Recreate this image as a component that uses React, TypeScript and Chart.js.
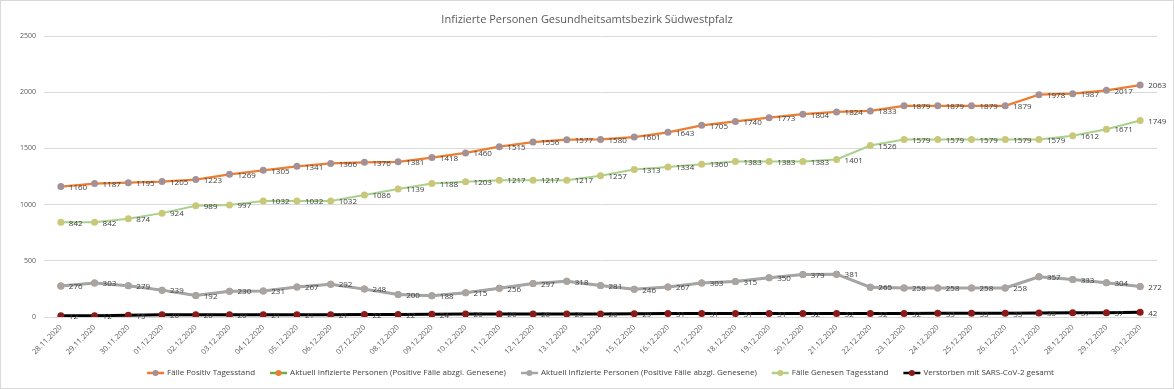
import React, { useEffect, useRef } from "react";
import { Chart, registerables } from "chart.js";
Chart.register(...registerables);

const dates = [
  "28.11.2020", "29.11.2020", "30.11.2020", "01.12.2020", "02.12.2020", "03.12.2020",
  "04.12.2020", "05.12.2020", "06.12.2020", "07.12.2020", "08.12.2020", "09.12.2020",
  "10.12.2020", "11.12.2020", "12.12.2020", "13.12.2020", "14.12.2020", "15.12.2020",
  "16.12.2020", "17.12.2020", "18.12.2020", "19.12.2020", "20.12.2020", "21.12.2020",
  "22.12.2020", "23.12.2020", "24.12.2020", "25.12.2020", "26.12.2020", "27.12.2020",
  "28.12.2020", "29.12.2020", "30.12.2020",
];

const positiv = [
  1160, 1187, 1195, 1205, 1223, 1269, 1305, 1341, 1366, 1376, 1381, 1418, 1460, 1515,
  1556, 1577, 1580, 1601, 1643, 1705, 1740, 1773, 1804, 1824, 1833, 1879, 1879, 1879,
  1879, 1978, 1987, 2017, 2063,
];

const aktuell = [
  276, 303, 279, 239, 192, 230, 231, 267, 292, 248, 200, 188, 215, 256, 297, 318, 281,
  246, 267, 303, 315, 350, 379, 381, 265, 258, 258, 258, 258, 357, 333, 304, 272,
];

const genesen = [
  842, 842, 874, 924, 989, 997, 1032, 1032, 1032, 1086, 1139, 1188, 1203, 1217, 1217,
  1217, 1257, 1313, 1334, 1360, 1383, 1383, 1383, 1401, 1526, 1579, 1579, 1579, 1579,
  1579, 1612, 1671, 1749,
];

const verstorben = [
  12, 12, 15, 20, 20, 20, 21, 21, 21, 22, 22, 24, 26, 26, 26, 26, 26, 29, 31, 31, 31,
  31, 32, 32, 32, 32, 33, 33, 33, 35, 37, 37, 42,
];

const yTicks = [0, 500, 1000, 1500, 2000, 2500];

const TITLE = "Infizierte Personen Gesundheitsamtsbezirk Südwestpfalz";
const FONT = '"Open Sans", "DejaVu Sans Condensed", sans-serif';

const titlePlugin = {
  id: "customTitle",
  afterDraw(chart: any) {
    const ctx = chart.ctx;
    ctx.save();
    ctx.font = `11px ${FONT}`;
    ctx.fillStyle = "#595959";
    ctx.textAlign = "center";
    ctx.textBaseline = "middle";
    ctx.fillText(TITLE, chart.width / 2, 19);
    ctx.restore();
  },
};

const labelPlugin = {
  id: "dataLabels",
  afterDatasetsDraw(chart: any) {
    const ctx = chart.ctx;
    ctx.save();
    ctx.font = `8px ${FONT}`;
    ctx.fillStyle = "#404040";
    ctx.textAlign = "left";
    ctx.textBaseline = "middle";
    chart.data.datasets.forEach((ds: any, i: number) => {
      if (ds.noLabels) return;
      const meta = chart.getDatasetMeta(i);
      meta.data.forEach((pt: any, j: number) => {
        ctx.fillText(String(ds.data[j]), pt.x + 8, pt.y + 1);
      });
    });
    ctx.restore();
  },
};

const legendPlugin = {
  id: "customLegend",
  afterDraw(chart: any) {
    const ctx = chart.ctx;
    ctx.save();
    ctx.font = `8px ${FONT}`;
    ctx.textBaseline = "middle";
    const lineLen = 17;
    const gapText = 3;
    const gapItem = 15;
    const items = chart.data.datasets.map((ds: any) => ({
      label: ds.label,
      line: ds.borderColor,
      marker: ds.pointBackgroundColor,
      w: ctx.measureText(ds.label).width,
    }));
    const total =
      items.reduce((s: number, it: any) => s + lineLen + gapText + it.w, 0) +
      gapItem * (items.length - 1);
    let x = (chart.chartArea.left + chart.chartArea.right) / 2 - total / 2;
    const y = 372;
    items.forEach((it: any) => {
      ctx.strokeStyle = it.line;
      ctx.lineWidth = 2.5;
      ctx.beginPath();
      ctx.moveTo(x, y);
      ctx.lineTo(x + lineLen, y);
      ctx.stroke();
      ctx.fillStyle = it.marker;
      ctx.beginPath();
      ctx.arc(x + lineLen / 2, y, 3, 0, Math.PI * 2);
      ctx.fill();
      ctx.fillStyle = "#404040";
      ctx.textAlign = "left";
      ctx.fillText(it.label, x + lineLen + gapText, y);
      x += lineLen + gapText + it.w + gapItem;
    });
    ctx.restore();
  },
};

export default function App() {
  const ref = useRef<HTMLCanvasElement>(null);
  useEffect(() => {
    document.body.style.margin = "0";
    const mk = (
      label: string,
      data: number[],
      line: string,
      marker: string,
      width: number,
      order: number,
      noLabels = false
    ) => ({
      label,
      data,
      borderColor: line,
      backgroundColor: marker,
      pointBackgroundColor: marker,
      pointBorderColor: marker,
      pointRadius: 3.5,
      pointBorderWidth: 0,
      borderWidth: width,
      tension: 0,
      order,
      noLabels,
    });
    const chart = new Chart(ref.current!, {
      type: "line",
      data: {
        labels: dates,
        datasets: [
          mk("Fälle Positiv Tagesstand", positiv, "#ed7d31", "#a39196", 2.25, 4),
          mk(
            "Aktuell Infizierte Personen (Positive Fälle abzgl. Genesene)",
            aktuell,
            "#70ad47",
            "#ed7d31",
            2,
            5,
            true
          ),
          mk(
            "Aktuell Infizierte Personen (Positive Fälle abzgl. Genesene)",
            aktuell,
            "#a5a5a5",
            "#a5a5a5",
            3,
            3
          ),
          mk("Fälle Genesen Tagesstand", genesen, "#a9d18e", "#c9c878", 2, 2),
          mk("Verstorben mit SARS-CoV-2 gesamt", verstorben, "#000000", "#8b1a1a", 3, 1),
        ] as any,
      },
      options: {
        animation: false,
        responsive: true,
        maintainAspectRatio: false,
        layout: { padding: { top: 35, right: 16, left: 0, bottom: 0 } },
        plugins: {
          legend: { display: false },
          title: { display: false },
          tooltip: { enabled: false },
        },
        scales: {
          x: {
            offset: true,
            grid: { display: false, drawTicks: false },
            border: { display: false },
            ticks: {
              autoSkip: false,
              maxRotation: 45,
              minRotation: 45,
              padding: 6,
              color: "#595959",
              font: { family: FONT, size: 7.5 },
            },
            afterFit(scale: any) {
              scale.height = 71;
            },
          },
          y: {
            min: 0,
            max: 2500,
            afterBuildTicks(scale: any) {
              scale.ticks = yTicks.map((v) => ({ value: v }));
            },
            grid: { color: "#d9d9d9", drawTicks: false, lineWidth: 1 },
            border: { display: false },
            ticks: {
              padding: 8,
              color: "#595959",
              font: { family: FONT, size: 7 },
              callback: (v: any) => String(v),
            },
            afterFit(scale: any) {
              scale.width = 43;
            },
          },
        },
      },
      plugins: [titlePlugin, labelPlugin, legendPlugin],
    });
    return () => chart.destroy();
  }, []);
  return (
    <div
      style={{
        width: 1174,
        height: 389,
        position: "relative",
        boxSizing: "border-box",
        border: "1px solid #d9d9d9",
        background: "#fff",
      }}
    >
      <canvas ref={ref} />
    </div>
  );
}
